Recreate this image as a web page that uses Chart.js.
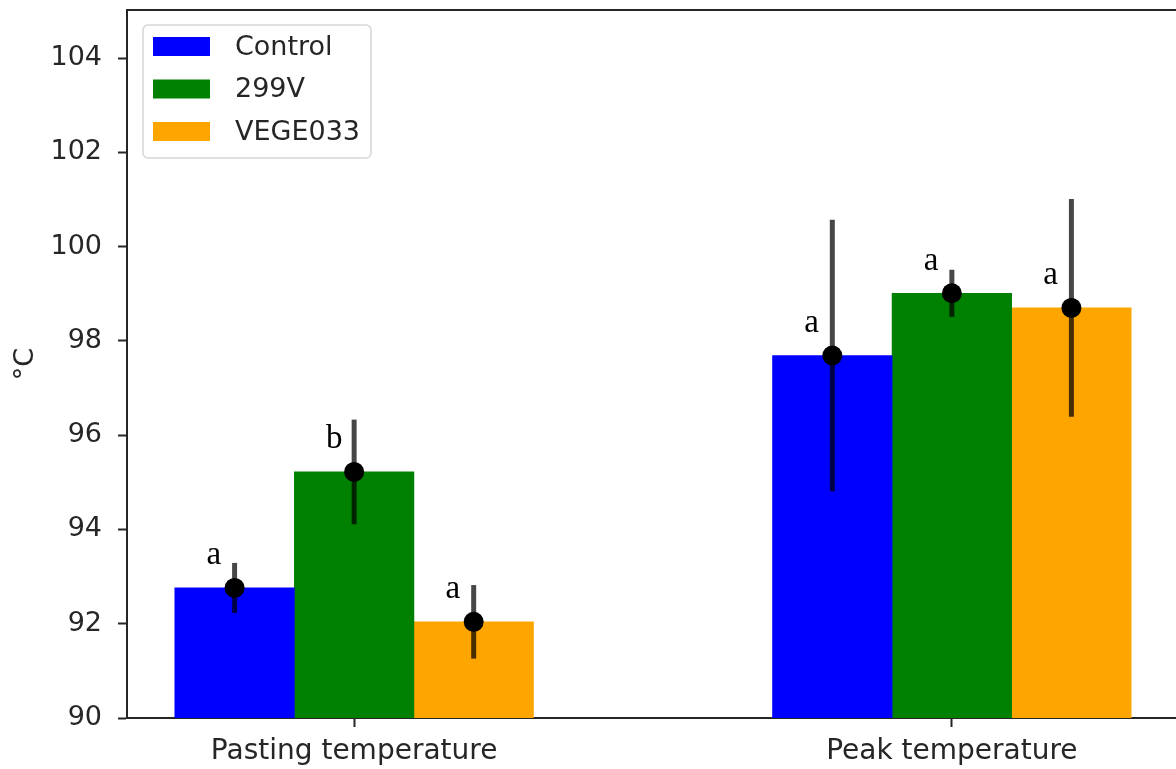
<!DOCTYPE html>
<html>
<head>
<meta charset="utf-8">
<script src="https://cdn.jsdelivr.net/npm/chart.js@4"></script>
<style>
  html, body { margin: 0; padding: 0; background: #fff; overflow: hidden; }
  #wrap { width: 1176px; height: 769px; overflow: hidden; }
  #box { width: 1200px; height: 769px; }
</style>
</head>
<body>
<div id="wrap"><div id="box"><canvas id="temps"></canvas></div></div>
<script>
// categories + tick labels
var categories = ["Pasting temperature", "Peak temperature"];
var yTicks = [90, 92, 94, 96, 98, 100, 102, 104];

// series (means, errors, letters)
var seriesNames = ["Control", "299V", "VEGE033"];
var controlMeans = [92.76, 97.69];
var controlErr = [0.53, 2.88];
var v299Means = [95.22, 99.01];
var v299Err = [1.11, 0.5];
var vegeMeans = [92.04, 98.70];
var vegeErr = [0.78, 2.31];

var controlLetters = ["a", "a"];
var v299Letters = ["b", "a"];
var vegeLetters = ["a", "a"];

var barColors = ["#0000ff", "#008000", "#ffa500"];

var allMeans = [controlMeans, v299Means, vegeMeans];
var allErr = [controlErr, v299Err, vegeErr];
var allLetters = [controlLetters, v299Letters, vegeLetters];

var barWidth = 0.2; // in category units, like matplotlib width=0.2

var datasets = seriesNames.map(function (name, s) {
  return {
    label: name,
    backgroundColor: barColors[s],
    borderWidth: 0,
    grouped: false,
    barPercentage: 1,
    categoryPercentage: 1,
    data: allMeans[s].map(function (m, i) {
      return { x: i + (s - 1) * barWidth, y: m };
    })
  };
});

// error bars, markers, letters, frame and legend
var extras = {
  id: "extras",
  afterDatasetsDraw: function (chart) {
    var ctx = chart.ctx;
    var xs = chart.scales.x, ys = chart.scales.y;
    var area = chart.chartArea;

    ctx.save();
    ctx.beginPath();
    ctx.rect(area.left, area.top, area.right - area.left, area.bottom - area.top);
    ctx.clip();
    for (var s = 0; s < seriesNames.length; s++) {
      for (var i = 0; i < categories.length; i++) {
        var xv = i + (s - 1) * barWidth;
        var px = xs.getPixelForValue(xv);
        var m = allMeans[s][i], e = allErr[s][i];
        ctx.strokeStyle = "rgba(0,0,0,0.72)";
        ctx.lineWidth = 5;
        ctx.beginPath();
        ctx.moveTo(px, ys.getPixelForValue(m - e));
        ctx.lineTo(px, ys.getPixelForValue(m + e));
        ctx.stroke();
        ctx.fillStyle = "#000";
        ctx.beginPath();
        ctx.arc(px, ys.getPixelForValue(m), 10, 0, Math.PI * 2);
        ctx.fill();

        ctx.font = "33px 'Liberation Serif', 'Times New Roman', serif";
        ctx.textAlign = "left";
        ctx.textBaseline = "alphabetic";
        ctx.fillText(allLetters[s][i], xs.getPixelForValue(xv - 0.047), ys.getPixelForValue(m + 0.5));
      }
    }
    ctx.restore();

    // top + right spines
    ctx.save();
    ctx.strokeStyle = "#262626";
    ctx.lineWidth = 2;
    ctx.beginPath();
    ctx.moveTo(area.left - 1, area.top);
    ctx.lineTo(area.right, area.top);
    ctx.lineTo(area.right, area.bottom);
    ctx.stroke();
    ctx.restore();

    // legend
    ctx.save();
    var lx = 143, ly = 25, lw = 228, lh = 133, r = 5;
    ctx.fillStyle = "rgba(255,255,255,0.85)";
    ctx.strokeStyle = "#d6d6d6";
    ctx.lineWidth = 1.5;
    ctx.beginPath();
    ctx.roundRect(lx, ly, lw, lh, r);
    ctx.fill();
    ctx.stroke();
    ctx.font = "27px 'DejaVu Sans', sans-serif";
    ctx.textAlign = "left";
    ctx.textBaseline = "middle";
    for (var k = 0; k < seriesNames.length; k++) {
      var cy = 46.5 + k * 42.5;
      ctx.fillStyle = barColors[k];
      ctx.fillRect(153, cy - 9.5, 57, 19);
      ctx.fillStyle = "#262626";
      ctx.fillText(seriesNames[k], 235, cy + 1);
    }
    ctx.restore();
  }
};

new Chart("temps", {
  type: "bar",
  data: { datasets: datasets },
  options: {
    responsive: true,
    maintainAspectRatio: false,
    animation: false,
    layout: { padding: { top: 10, right: 21, left: 0, bottom: 0 } },
    plugins: { legend: { display: false }, tooltip: { enabled: false } },
    scales: {
      x: {
        type: "linear",
        offset: false,
        min: -0.38,
        max: 1.38,
        afterBuildTicks: function (scale) {
          scale.ticks = categories.map(function (c, i) { return { value: i }; });
        },
        afterFit: function (scale) {
          scale.height = 51;
          scale.paddingLeft = 0;
          scale.paddingRight = 0;
        },
        ticks: {
          autoSkip: false,
          maxRotation: 0,
          padding: 8,
          color: "#262626",
          font: { family: "'DejaVu Sans', sans-serif", size: 28 },
          callback: function (v) { return categories[v]; }
        },
        grid: { offset: false, drawOnChartArea: false, drawTicks: true, tickLength: 9, tickWidth: 2, tickColor: "#262626" },
        border: { display: true, color: "#262626", width: 2 }
      },
      y: {
        min: 90,
        max: 105.02,
        afterBuildTicks: function (scale) {
          scale.ticks = yTicks.map(function (v) { return { value: v }; });
        },
        afterFit: function (scale) {
          scale.width = 127;
          scale.paddingTop = 0;
          scale.paddingBottom = 0;
        },
        ticks: {
          padding: 16,
          color: "#262626",
          font: { family: "'DejaVu Sans', sans-serif", size: 27 },
          callback: function (v) { return String(v); }
        },
        title: {
          display: true,
          text: "°C",
          color: "#262626",
          font: { family: "'DejaVu Sans', sans-serif", size: 27 },
          padding: { top: 10, bottom: 0 }
        },
        grid: { drawOnChartArea: false, drawTicks: true, tickLength: 9, tickWidth: 2, tickColor: "#262626" },
        border: { display: true, color: "#262626", width: 2 }
      }
    }
  },
  plugins: [extras]
});
</script>
</body>
</html>
